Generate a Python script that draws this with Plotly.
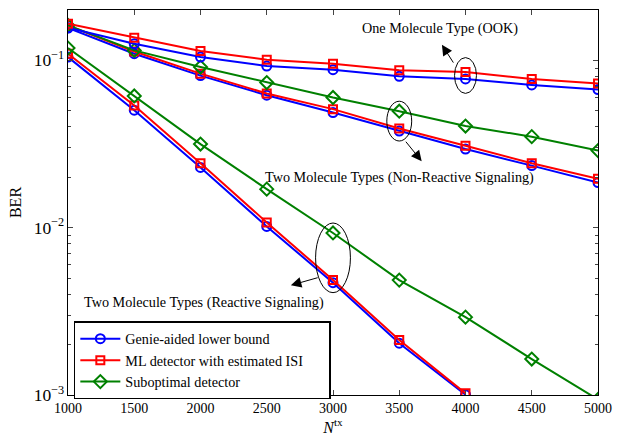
import numpy as np
import plotly.graph_objects as go

# ---- data ----
n_tx = [1000, 1500, 2000, 2500, 3000, 3500, 4000, 4500, 5000]

# One Molecule Type (OOK)
ook_genie = [0.1565, 0.1257, 0.1046, 0.0925, 0.0880, 0.0803, 0.0774, 0.0713, 0.0669]
ook_ml = [0.1654, 0.1365, 0.1136, 0.1010, 0.0955, 0.0872, 0.0852, 0.0774, 0.0727]

# Two Molecule Types (Non-Reactive Signaling)
nr_genie = [0.1560, 0.1096, 0.0811, 0.0619, 0.0488, 0.0378, 0.0295, 0.0235, 0.0186]
nr_ml = [0.1620, 0.1130, 0.0833, 0.0634, 0.0511, 0.0392, 0.0309, 0.0243, 0.0196]
nr_sub = [0.1616, 0.1147, 0.0912, 0.0737, 0.0600, 0.0497, 0.0405, 0.0350, 0.0289]

# Two Molecule Types (Reactive Signaling)
r_n_tx = [1000, 1500, 2000, 2500, 3000, 3500, 4000]
r_genie = [0.1046, 0.0504, 0.0229, 0.01018, 0.00469, 0.00204, 0.001004]
r_ml = [0.1096, 0.0537, 0.0243, 0.01075, 0.00486, 0.00213, 0.001023]
r_sub = [0.1184, 0.0613, 0.0316, 0.0170, 0.0093, 0.00486, 0.00292, 0.00164, 0.00094]

legend_names = ["Genie-aided lower bound", "ML detector with estimated ISI", "Suboptimal detector"]
colors = ["#0000ff", "#ff0000", "#008000"]
symbols = ["circle-open", "square-open", "diamond-open"]
msizes = [9, 8, 10]

FONT = "Liberation Serif"
W, H = 621, 438
ML, MR, MT, MB = 68, 21, 9, 42
X_RANGE = [1000, 5000]
Y_RANGE = [-3, np.log10(0.2)]
px_per_x = (W - ML - MR) / (X_RANGE[1] - X_RANGE[0])
plot_h = H - MT - MB

fig = go.Figure()

def add(x, y, k, show):
    fig.add_trace(go.Scatter(
        x=x, y=y, mode="lines+markers",
        name=legend_names[k] + ("\u00a0" * 6 if show else ""),
        legendgroup=str(k), showlegend=show,
        line=dict(color=colors[k], width=2),
        marker=dict(symbol=symbols[k], size=msizes[k], color=colors[k],
                    line=dict(color=colors[k], width=2)),
    ))

# reactive
add(r_n_tx, r_genie, 0, True)
add(r_n_tx, r_ml, 1, True)
add(n_tx, r_sub, 2, True)
# non-reactive
add(n_tx, nr_genie, 0, False)
add(n_tx, nr_ml, 1, False)
add(n_tx, nr_sub, 2, False)
# OOK
add(n_tx, ook_genie, 0, False)
add(n_tx, ook_ml, 1, False)

def to_paper_y(v):
    return (np.log10(v) - Y_RANGE[0]) / (Y_RANGE[1] - Y_RANGE[0])

# ellipses centred on data points, radii in pixels
def ellipse(xa, ya, rx, ry):
    cy = float(to_paper_y(ya))
    dx = rx / px_per_x
    dy = ry / plot_h
    fig.add_shape(type="circle", xref="x", yref="paper",
                  x0=xa - dx, x1=xa + dx, y0=cy - dy, y1=cy + dy,
                  line=dict(color="black", width=1))

i4000 = n_tx.index(4000)
i3500 = n_tx.index(3500)
i3000 = n_tx.index(3000)
ellipse(4000, np.sqrt(ook_genie[i4000] * ook_ml[i4000]), 11, 18)
ellipse(3500, np.sqrt(nr_genie[i3500] * nr_sub[i3500]), 12.5, 20)
ellipse(3000, np.sqrt(r_genie[r_n_tx.index(3000)] * r_sub[i3000]), 17.5, 35)

def arrow(x, y, ax, ay):
    fig.add_annotation(x=x, y=y, xref="paper", yref="paper", text="",
                       showarrow=True, ax=ax, ay=ay, arrowhead=2,
                       arrowsize=2.1, arrowwidth=1, arrowcolor="black", standoff=0)

arrow(0.7055, 0.9096, 12.4, 19.3)
arrow(0.6673, 0.6072, -17, -21)
arrow(0.4205, 0.285, 28.3, -8)

def label(text, x, y, xanchor="center"):
    fig.add_annotation(x=x, y=y, xref="paper", yref="paper", text=text,
                       showarrow=False, xanchor=xanchor, yanchor="middle",
                       font=dict(family=FONT, size=14.2, color="black"))

label("One Molecule Type (OOK)", 0.701, 0.951)
label("Two Molecule Types (Non-Reactive Signaling)", 0.626, 0.566)
label("Two Molecule Types (Reactive Signaling)", 0.0263, 0.240, "left")

fig.update_xaxes(
    range=X_RANGE, tickvals=n_tx, ticks="inside", ticklen=5,
    showline=True, linecolor="black", linewidth=1, mirror="allticks",
    showgrid=False, zeroline=False,
    tickfont=dict(family=FONT, size=14, color="black"),
    title=dict(text="<i>N</i><sup>tx</sup>", standoff=2,
               font=dict(family=FONT, size=16, color="black")),
)
fig.update_yaxes(
    type="log", range=Y_RANGE, dtick=1, exponentformat="power",
    ticks="inside", ticklen=5,
    minor=dict(ticks="inside", ticklen=3, showgrid=False),
    showline=True, linecolor="black", linewidth=1, mirror="allticks",
    showgrid=False, zeroline=False,
    tickfont=dict(family=FONT, size=14, color="black"),
    title=dict(text="BER", standoff=8,
               font=dict(family=FONT, size=16, color="black")),
)

fig.update_layout(
    width=W, height=H,
    margin=dict(l=ML, r=MR, t=MT, b=MB),
    plot_bgcolor="white", paper_bgcolor="white",
    font=dict(family=FONT, color="black"),
    legend=dict(x=0.011, y=0.191, xanchor="left", yanchor="top",
                bgcolor="white", bordercolor="black", borderwidth=1.5,
                itemwidth=40,
                font=dict(family=FONT, size=14.2, color="black"),
                tracegroupgap=0),
    showlegend=True,
)

fig.write_html("out.html", config={"displayModeBar": False},
               post_script="document.body.style.margin='0';")
